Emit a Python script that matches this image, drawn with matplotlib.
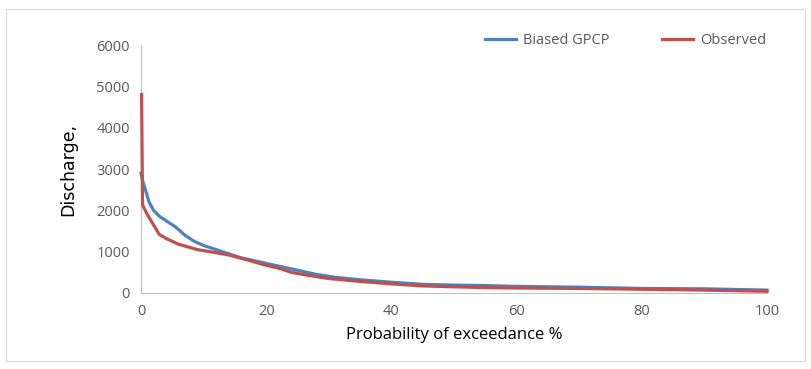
import matplotlib.pyplot as plt
from matplotlib.patches import Rectangle

# exceedance probability (%) and discharge
gpcp_x = [0, 0.3, 0.7, 1.3, 2, 3, 4.5, 5.5, 7, 8.5, 10, 12, 14, 16, 19, 22, 25,
          28, 31, 35, 40, 45, 50, 55, 60, 70, 80, 90, 100]
gpcp_q = [2900, 2700, 2500, 2200, 2000, 1850, 1700, 1600, 1400, 1250, 1150,
          1050, 950, 850, 750, 650, 550, 450, 380, 320, 260, 210, 190, 180,
          160, 140, 110, 100, 70]

obs_x = [0.1, 0.25, 1, 2, 2.9, 4, 6, 9, 11, 14, 17, 20, 22, 24, 27, 30,
         35, 40, 45, 50, 55, 60, 70, 80, 90, 100]
obs_q = [4800, 2130, 1900, 1650, 1420, 1320, 1180, 1050, 1000, 920, 800,
         670, 600, 500, 420, 350, 280, 220, 170, 150, 130, 120, 110, 90, 70, 40]

plt.rcParams['font.family'] = ['Open Sans', 'DejaVu Sans']

fig = plt.figure(figsize=(8.12, 3.69), dpi=100)
fig.patches.append(Rectangle((6 / 812, 8 / 369), 799 / 812, 352 / 369,
                             transform=fig.transFigure, fill=False,
                             edgecolor='#d9d9d9', linewidth=0.8))

ax = fig.add_axes([0.1736, 0.206, 0.771, 0.672])
ax.plot(gpcp_x, gpcp_q, color='#4F81BD', linewidth=2.3, label='Biased GPCP',
        clip_on=False, solid_joinstyle='round', zorder=3)
ax.plot(obs_x, obs_q, color='#C0504D', linewidth=2.3, label='Observed',
        clip_on=False, solid_joinstyle='round', zorder=3)

ax.set_xlim(0, 100)
ax.set_ylim(0, 6000)
ax.set_xticks(range(0, 101, 20))
ax.set_yticks(range(0, 6001, 1000))
ax.tick_params(length=0, labelsize=10.5, labelcolor='#595959', pad=8)

for s in ['top', 'right']:
    ax.spines[s].set_visible(False)
for s in ['left', 'bottom']:
    ax.spines[s].set_color('#bfbfbf')

ax.set_xlabel('Probability of exceedance %', fontsize=12, labelpad=6)
ax.set_ylabel('Discharge,', fontsize=12.5, labelpad=14, family='DejaVu Sans')

ax.legend(loc='upper right', bbox_to_anchor=(1.02, 1.1), ncol=2,
          frameon=False, fontsize=10.5, labelcolor='#595959',
          handlelength=2.1, columnspacing=3.6, handletextpad=0.5)

plt.savefig('out.png')
